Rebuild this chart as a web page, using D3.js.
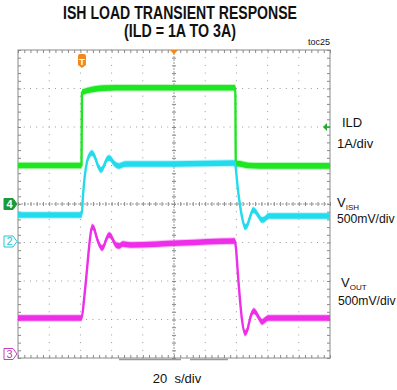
<!DOCTYPE html>
<html>
<head>
<meta charset="utf-8">
<script src="https://cdn.jsdelivr.net/npm/d3@7"></script>
<style>
  html, body { margin: 0; padding: 0; background: #fff; }
  svg { display: block; }
  text { font-family: "Liberation Sans", Arial, sans-serif; fill: #111; }
</style>
</head>
<body>
<svg id="scope" width="397" height="390"></svg>
<script>
// Time base: 20 us/div, 10 divisions, centred on the trigger point
const timeRange = [-100, 100];
const divRange = [-4, 4];

// ILD load current, A (1A/div)
const ildTime = [-100, -59.3, -59, -57, -54, -50, -45, -30, 0, 39.3, 39.6, 41, 44, 48, 55, 100];
const ildAmps = [1.0, 1.0, 2.9, 2.93, 2.96, 2.99, 3.01, 3.02, 3.02, 3.02, 1.03, 1.05, 1.03, 1.0, 0.99, 0.99];

// VISH, V (500mV/div)
const vishTime = [-100, -59.2, -58.3, -57.1, -55.8, -54.5, -52.6, -51.3, -50, -48.7, -46.8, -45.5, -44.2, -42.9, -41.7, -40.4, -39.1, -37.2, -35.3, -33.3, -30.8, 0,
  39.1, 39.7, 41, 42.3, 43.6, 45.5, 46.8, 48.1, 49.4, 50.6, 51.9, 53.8, 56.4, 58.3, 60.3, 100];
const vishVolts = [0.344, 0.344, 0.604, 0.864, 1.032, 1.11, 1.149, 1.123, 1.058, 0.981, 0.929, 0.955, 1.019, 1.071, 1.084, 1.071, 1.032, 0.994, 0.981, 0.994, 1.006, 1.006,
  1.019, 0.929, 0.669, 0.474, 0.318, 0.188, 0.201, 0.279, 0.357, 0.409, 0.396, 0.344, 0.279, 0.292, 0.331, 0.331];

// VOUT, V (500mV/div)
const voutTime = [-100, -59.2, -57.7, -56.4, -55.1, -53.8, -52.6, -51.3, -50, -48.1, -46.2, -44.9, -43.6, -41.7, -40.4, -39.1, -37.2, -35.3, -32.7, -28.2, 3.8, 39.1,
  39.7, 41, 42.3, 43.6, 45.5, 46.8, 48.1, 49.4, 51.3, 52.6, 54.5, 56.4, 58.3, 60.3, 100];
const voutVolts = [0.468, 0.468, 0.701, 0.961, 1.247, 1.506, 1.649, 1.636, 1.545, 1.429, 1.377, 1.403, 1.481, 1.545, 1.532, 1.481, 1.416, 1.403, 1.429, 1.416, 1.442, 1.468,
  1.377, 1.026, 0.701, 0.442, 0.273, 0.299, 0.403, 0.506, 0.558, 0.532, 0.468, 0.416, 0.442, 0.468, 0.468];

// Channel setup: ground-marker position (divisions from centre) and scale per division
const channels = [
  { id: "4", name: "ILD", t: ildTime, v: ildAmps, offset: 0, perDiv: 1, color: "#1fe622", edge: "#1fe622", markerFill: "#1b9a3a", filled: true },
  { id: "2", name: "VISH", t: vishTime, v: vishVolts, offset: -0.974, perDiv: 0.5, color: "#22dcee", edge: "#22dcee", markerFill: "#22c6d8", filled: false },
  { id: "3", name: "VOUT", t: voutTime, v: voutVolts, offset: -3.896, perDiv: 0.5, color: "#ee2ee8", edge: "#ee2ee8", markerFill: "#c040c0", filled: false }
];

const svg = d3.select("#scope");
const pL = 18, pR = 330, pT = 50, pB = 358;

const x = d3.scaleLinear().domain(timeRange).range([pL, pR]);
const y = d3.scaleLinear().domain(divRange).range([pB, pT]);

// Title
svg.append("text").attr("x", 180).attr("y", 18.5).attr("text-anchor", "middle")
  .attr("textLength", 234).attr("lengthAdjust", "spacingAndGlyphs")
  .style("font-family", "'Liberation Sans Narrow', 'Liberation Sans', Arial, sans-serif")
  .style("font-weight", "bold").style("font-size", "17.5px")
  .text("ISH LOAD TRANSIENT RESPONSE");
svg.append("text").attr("x", 180).attr("y", 37).attr("text-anchor", "middle")
  .attr("textLength", 112).attr("lengthAdjust", "spacingAndGlyphs")
  .style("font-family", "'Liberation Sans Narrow', 'Liberation Sans', Arial, sans-serif")
  .style("font-weight", "bold").style("font-size", "17.5px")
  .text("(ILD = 1A TO 3A)");
svg.append("text").attr("x", 330).attr("y", 45).attr("text-anchor", "end")
  .style("font-size", "9px").text("toc25");

// Graticule: dotted division lines
const g = svg.append("g");
const majorT = d3.range(-80, 100, 20);
const majorD = d3.range(-3, 4, 1);
const minorT = d3.range(-100, 100.01, 4);
const minorD = d3.range(-4, 4.01, 0.2);

majorT.filter(t => t !== 0).forEach(t => {
  g.selectAll(null).data(minorD).join("rect")
    .attr("x", x(t) - 0.5).attr("y", d => y(d) - 0.5)
    .attr("width", 1).attr("height", 1).attr("fill", "#9a9a9a");
});
majorD.filter(d => d !== 0).forEach(dv => {
  g.selectAll(null).data(minorT).join("rect")
    .attr("x", t => x(t) - 0.5).attr("y", y(dv) - 0.5)
    .attr("width", 1).attr("height", 1).attr("fill", "#9a9a9a");
});

// Border ticks via axes
const fmt = () => "";
const axTop = d3.axisBottom(x).tickValues(minorT).tickSize(3).tickFormat(fmt);
const axBot = d3.axisTop(x).tickValues(minorT).tickSize(3).tickFormat(fmt);
const axL = d3.axisRight(y).tickValues(minorD).tickSize(3).tickFormat(fmt);
const axR = d3.axisLeft(y).tickValues(minorD).tickSize(3).tickFormat(fmt);
const axCX = d3.axisBottom(x).tickValues(minorT).tickSize(4).tickFormat(fmt);
const axCY = d3.axisRight(y).tickValues(minorD).tickSize(4).tickFormat(fmt);

function styleAxis(sel, col) {
  sel.selectAll(".domain").remove();
  sel.selectAll("line").attr("stroke", col).attr("stroke-width", 1);
}
styleAxis(svg.append("g").attr("transform", `translate(0,${pT})`).call(axTop), "#888");
styleAxis(svg.append("g").attr("transform", `translate(0,${pB})`).call(axBot), "#888");
styleAxis(svg.append("g").attr("transform", `translate(${pL},0)`).call(axL), "#888");
styleAxis(svg.append("g").attr("transform", `translate(${pR},0)`).call(axR), "#888");
// Centre cross with ticks on both sides
styleAxis(svg.append("g").attr("transform", `translate(0,${y(0) - 2})`).call(axCX), "#888");
styleAxis(svg.append("g").attr("transform", `translate(${x(0) - 2},0)`).call(axCY), "#888");
svg.append("line").attr("x1", pL).attr("x2", pR).attr("y1", y(0)).attr("y2", y(0))
  .attr("stroke", "#999").attr("stroke-width", 1).attr("stroke-dasharray", "2,1");
svg.append("line").attr("x1", x(0)).attr("x2", x(0)).attr("y1", pT).attr("y2", pB)
  .attr("stroke", "#999").attr("stroke-width", 1).attr("stroke-dasharray", "2,1");

// Frame
svg.append("rect").attr("x", pL).attr("y", pT).attr("width", pR - pL).attr("height", pB - pT)
  .attr("fill", "none").attr("stroke", "#8a8a8a").attr("stroke-width", 1);

// Traces: a fuzzy band, a solid band and a line so steep edges keep some width
channels.forEach(ch => {
  const pts = ch.t.map((t, i) => [t, ch.v[i]]);
  const py = d => y(ch.offset + d[1] / ch.perDiv);
  const band = (w) => d3.area().curve(d3.curveMonotoneX)
    .x(d => x(d[0])).y0(d => py(d) + w).y1(d => py(d) - w);
  svg.append("path").datum(pts).attr("d", band(3.8)).attr("fill", ch.color).attr("opacity", 0.3);
  svg.append("path").datum(pts).attr("d", band(2.8)).attr("fill", ch.color);
  svg.append("path").datum(pts).attr("d", d3.line().curve(d3.curveMonotoneX).x(d => x(d[0])).y(py))
    .attr("fill", "none").attr("stroke", ch.edge).attr("stroke-width", 2.4)
    .attr("stroke-linejoin", "round");
});

// Channel ground markers on the left edge
channels.forEach(ch => {
  const cy = y(ch.offset);
  const path = `M4,${cy - 5.5} H13 L17,${cy} L13,${cy + 5.5} H4 Z`;
  svg.append("path").attr("d", path)
    .attr("fill", ch.filled ? ch.markerFill : "#fff")
    .attr("stroke", ch.markerFill).attr("stroke-width", 1);
  svg.append("text").attr("x", 9.5).attr("y", cy + 4).attr("text-anchor", "middle")
    .style("font-size", "11px").style("font-weight", ch.filled ? "bold" : "normal")
    .style("fill", ch.filled ? "#fff" : ch.markerFill).text(ch.id);
});

// Trigger position marker (top) and trigger time marker "T"
const trigX = x(0);
svg.append("path").attr("d", `M${trigX - 4},${pT} L${trigX + 4},${pT} L${trigX},${pT + 4.5} Z`)
  .attr("fill", "#f08a1e");
const tx = x(ildTime[2]);
svg.append("path").attr("d", `M${tx - 4},56 Q${tx - 4},54 ${tx - 2},54 H${tx + 2} Q${tx + 4},54 ${tx + 4},56 V65 L${tx},68 L${tx - 4},65 Z`)
  .attr("fill", "#f08a1e");
svg.append("text").attr("x", tx).attr("y", 64.5).attr("text-anchor", "middle")
  .style("font-size", "9px").style("font-weight", "bold").style("fill", "#fff").text("T");

// Trigger level arrow (right edge, ILD channel)
const trigLevelY = y(channels[0].offset + 2 / channels[0].perDiv);
svg.append("path").attr("d", `M${pR - 7},${trigLevelY} L${pR - 3},${trigLevelY - 4} L${pR - 3},${trigLevelY + 4} Z`)
  .attr("fill", "#1fae2a");
svg.append("line").attr("x1", pR - 4).attr("x2", pR).attr("y1", trigLevelY).attr("y2", trigLevelY)
  .attr("stroke", "#1fae2a").attr("stroke-width", 1.5);

// Right-hand channel labels
const lab = svg.append("g").style("font-size", "13px");
lab.append("text").attr("x", 342).attr("y", 127).text("ILD");
lab.append("text").attr("x", 337).attr("y", 148).text("1A/div");
const vish = lab.append("text").attr("x", 337).attr("y", 207);
vish.append("tspan").text("V");
vish.append("tspan").attr("dy", 2.5).style("font-size", "8px").text("ISH");
lab.append("text").attr("x", 337).attr("y", 223).style("font-size", "12.2px").text("500mV/div");
const vout = lab.append("text").attr("x", 341).attr("y", 287);
vout.append("tspan").text("V");
vout.append("tspan").attr("dy", 2.5).style("font-size", "8px").text("OUT");
lab.append("text").attr("x", 338).attr("y", 305).style("font-size", "12.2px").text("500mV/div");

// Horizontal position bars under the frame
svg.append("line").attr("x1", 119).attr("x2", 181).attr("y1", pB + 1.5).attr("y2", pB + 1.5)
  .attr("stroke", "#999").attr("stroke-width", 1.5);
svg.append("line").attr("x1", 190).attr("x2", 228).attr("y1", pB + 1.5).attr("y2", pB + 1.5)
  .attr("stroke", "#999").attr("stroke-width", 1.5);

// Time base label
svg.append("text").attr("x", 177).attr("y", 383).attr("text-anchor", "middle")
  .style("font-size", "13px").style("white-space", "pre").text("20  s/div");
</script>
</body>
</html>
